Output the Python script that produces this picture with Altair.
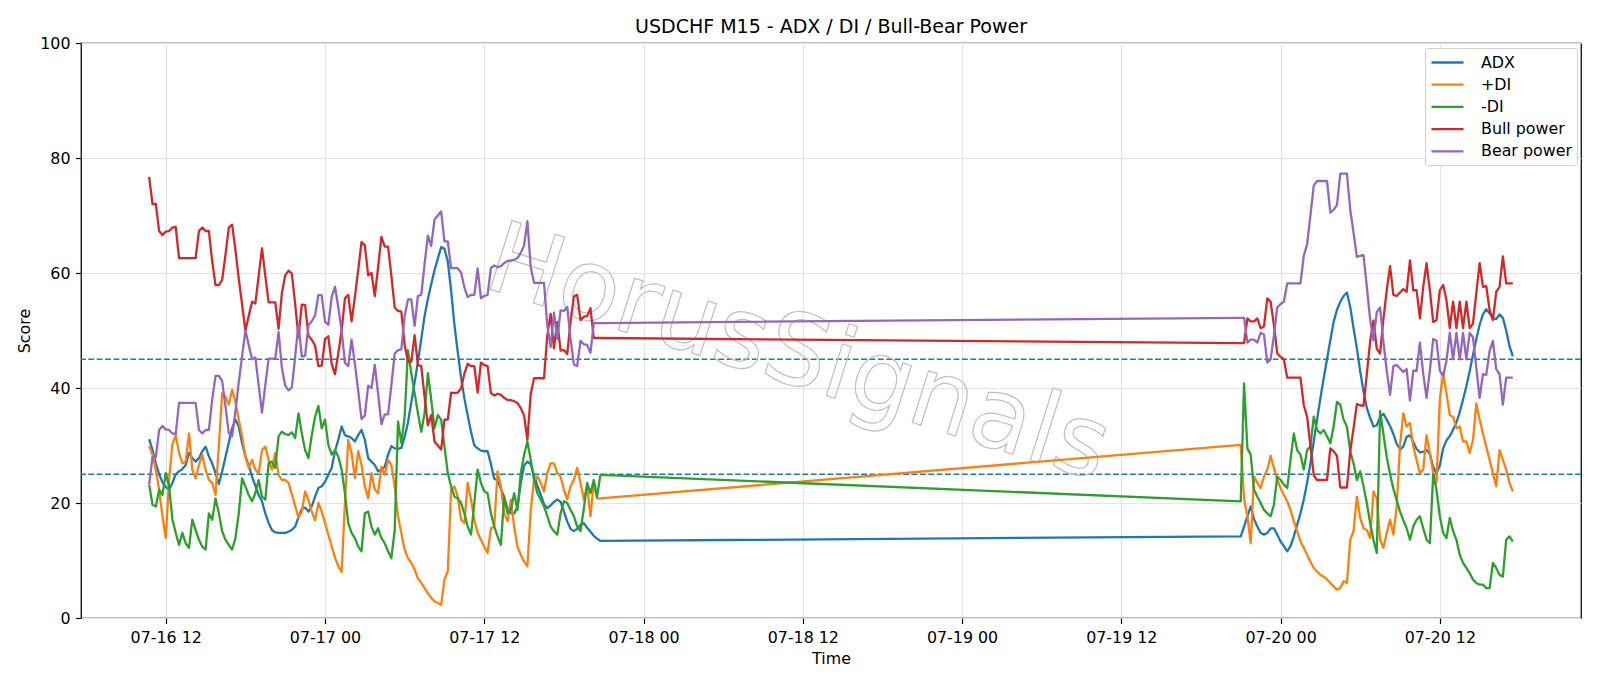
import altair as alt
import pandas as pd

# ---- Segment 1 : 07-16 10:45 -> 07-17 20:45, 15-minute bars ----
SEG1_START = "2026-07-16 10:45"
ADX_1 = [31.1, 29.2, 26.9, 25.0, 23.6, 22.8, 22.3, 23.5, 25.0, 25.5, 25.9, 26.6, 28.7, 27.8, 27.2, 27.8, 29.0, 29.8, 28.1, 26.9,
         25.2, 23.3, 25.5, 28.0, 30.5, 33.0, 34.5, 33.3, 30.4, 28.1, 26.6, 24.6, 23.0, 21.4, 20.3, 18.2, 16.5, 15.3, 14.9, 14.8,
         14.8, 14.8, 15.0, 15.3, 15.9, 17.5, 19.0, 19.2, 18.5, 19.4, 21.1, 22.6, 22.9, 23.7, 24.9, 26.1, 29.0, 31.0, 33.3, 31.8,
         31.6, 31.3, 30.7, 31.8, 32.7, 31.0, 27.8, 27.2, 26.6, 25.5, 25.8, 26.3, 28.4, 29.9, 29.5, 29.4, 29.6, 31.5, 34.0, 37.5,
         41.0, 44.5, 48.5, 52.5, 55.5, 58.0, 60.5, 62.5, 64.5, 64.2, 62.0, 57.0, 51.0, 46.3, 41.8, 38.2, 35.2, 32.4, 30.0, 29.5,
         29.1, 29.0, 29.0, 26.8, 24.2, 24.0, 22.5, 21.0, 19.0, 18.2, 18.2, 19.3, 23.5, 26.5, 27.2, 26.7, 24.8, 23.0, 21.5, 19.8,
         19.1, 19.6, 20.2, 20.6, 20.2, 18.5, 16.8, 15.5, 15.1, 15.5, 16.2, 16.5, 15.7, 15.0, 14.3, 13.8, 13.4]
PDI_1 = [29.9, 28.4, 25.8, 22.3, 17.7, 13.9, 24.0, 30.2, 31.8, 28.7, 26.9, 27.2, 32.1, 25.8, 24.3, 26.6, 28.4, 25.8, 24.0, 23.5,
         21.4, 30.0, 39.1, 38.5, 37.1, 39.7, 37.6, 34.5, 31.6, 28.1, 26.1, 27.5, 25.8, 25.2, 29.2, 29.8, 27.5, 25.8, 28.7, 24.9,
         24.0, 24.0, 23.5, 21.5, 19.5, 17.5, 18.5, 22.0, 20.5, 18.5, 17.0, 20.0, 18.5, 16.5, 14.5, 12.5, 10.5, 9.0, 8.0, 20.0,
         31.0, 28.7, 24.3, 29.0, 26.6, 22.9, 20.8, 25.2, 22.3, 21.7, 26.3, 24.9, 27.5, 26.6, 22.9, 17.7, 14.8, 11.9, 10.4, 9.6,
         8.4, 6.9, 6.1, 5.2, 4.3, 3.5, 2.9, 2.6, 2.3, 6.7, 8.1, 22.3, 22.9, 21.1, 17.1, 16.5, 23.5, 20.6, 17.1, 14.8,
         13.6, 12.4, 11.3, 15.6, 15.9, 25.5, 22.9, 18.2, 16.8, 20.6, 15.9, 12.4, 11.0, 9.8, 9.0, 18.8, 24.0, 24.6, 23.5, 22.0,
         25.2, 26.9, 26.9, 25.2, 24.6, 22.3, 20.6, 22.9, 24.0, 26.1, 23.5, 20.6, 22.9, 17.7, 23.5, 20.8, 20.8]
MDI_1 = [23.2, 19.7, 19.4, 22.3, 21.4, 25.2, 22.9, 17.1, 14.8, 12.7, 14.8, 13.0, 12.2, 17.1, 15.3, 13.6, 12.4, 11.9, 18.2, 17.1,
         20.8, 18.2, 15.1, 13.6, 12.7, 11.9, 13.9, 18.2, 24.3, 22.9, 21.4, 20.3, 21.7, 24.0, 21.1, 20.6, 26.9, 27.2, 26.1, 31.6,
         32.4, 32.0, 31.8, 32.3, 31.3, 35.6, 32.1, 29.2, 27.8, 31.8, 35.0, 36.9, 33.0, 34.5, 30.1, 28.4, 29.2, 28.1, 25.8, 21.7,
         16.5, 14.8, 13.9, 12.4, 11.6, 18.2, 18.5, 15.9, 14.5, 15.6, 13.9, 13.0, 11.6, 10.4, 15.3, 34.2, 30.4, 35.0, 46.6, 42.6,
         39.1, 35.6, 32.4, 35.6, 42.6, 38.0, 33.0, 35.3, 34.5, 29.8, 25.2, 22.9, 21.1, 20.8, 20.0, 18.2, 15.9, 14.5, 20.0, 25.8,
         23.5, 22.0, 21.7, 18.2, 15.9, 14.2, 12.7, 21.1, 18.2, 18.8, 21.7, 18.8, 25.2, 28.4, 30.7, 27.5, 24.0, 21.7, 20.6, 19.4,
         17.7, 15.9, 15.1, 14.5, 18.2, 20.3, 20.0, 18.8, 17.7, 15.9, 15.1, 19.0, 23.5, 21.7, 24.0, 21.1, 24.9]
BULL_1 = [76.7, 72.0, 72.0, 67.3, 66.6, 67.2, 67.3, 67.9, 68.0, 62.6, 62.6, 62.6, 62.6, 62.6, 62.6, 67.3, 67.9, 67.3, 67.3, 62.0,
          57.9, 57.9, 58.8, 63.2, 67.9, 68.4, 64.0, 59.0, 54.5, 50.0, 52.5, 55.0, 54.7, 59.5, 64.3, 59.5, 54.9, 54.9, 54.9, 50.3,
          56.5, 59.6, 60.4, 59.9, 54.6, 48.8, 54.5, 54.4, 49.1, 48.4, 47.4, 43.8, 43.9, 48.5, 49.0, 44.2, 42.4, 46.0, 50.0, 55.6,
          56.2, 51.6, 55.8, 60.5, 65.4, 64.8, 59.6, 60.0, 56.0, 61.0, 66.3, 64.6, 64.6, 59.5, 54.0, 53.4, 53.3, 47.5, 44.6, 44.6,
          49.2, 44.0, 43.8, 38.5, 33.5, 35.3, 30.7, 30.0, 29.3, 34.5, 34.5, 39.2, 39.1, 39.2, 39.9, 42.5, 44.2, 43.8, 43.8, 39.2,
          44.4, 44.0, 43.8, 39.1, 38.7, 39.0, 38.8, 38.3, 37.9, 37.9, 37.7, 37.4, 36.5, 35.2, 31.0, 39.0, 41.7, 41.7, 41.7, 41.7,
          49.2, 52.9, 46.9, 51.5, 46.5, 46.6, 45.9, 51.5, 55.9, 56.2, 51.8, 52.4, 52.5, 53.9, 48.7, 48.7, 48.7]
BEAR_1 = [23.3, 28.0, 28.0, 32.7, 33.4, 32.8, 32.7, 32.1, 32.0, 37.4, 37.4, 37.4, 37.4, 37.4, 37.4, 32.7, 32.1, 32.7, 32.7, 38.0,
          42.1, 42.1, 41.2, 36.8, 32.1, 31.6, 36.0, 41.0, 45.5, 50.0, 47.5, 45.0, 45.3, 40.5, 35.7, 40.5, 45.1, 45.1, 45.1, 49.7,
          43.5, 40.4, 39.6, 40.1, 45.4, 51.2, 45.5, 45.6, 50.9, 51.6, 52.6, 56.2, 56.1, 51.5, 51.0, 55.8, 57.6, 54.0, 50.0, 44.4,
          43.8, 48.4, 44.2, 39.5, 34.6, 35.2, 40.4, 40.0, 44.0, 39.0, 33.7, 35.4, 35.4, 40.5, 46.0, 46.6, 46.7, 52.5, 55.4, 55.4,
          50.8, 56.0, 56.2, 61.5, 66.5, 64.7, 69.3, 70.0, 70.7, 65.5, 65.5, 60.8, 60.9, 60.8, 60.1, 57.5, 55.8, 56.2, 56.2, 60.8,
          55.6, 56.0, 56.2, 60.9, 61.3, 61.0, 61.2, 61.7, 62.1, 62.1, 62.3, 62.6, 63.5, 64.8, 69.0, 61.0, 58.3, 58.3, 58.3, 58.3,
          50.8, 47.1, 53.1, 48.5, 53.5, 53.4, 54.1, 48.5, 44.1, 43.8, 48.2, 47.6, 47.5, 46.1, 51.3, 51.3, 51.3]

# ---- Segment 2 : 07-19 21:00 -> 07-20 17:30, 15-minute bars ----
SEG2_START = "2026-07-19 21:00"
ADX_2 = [14.2, 15.9, 17.7, 19.4, 17.2, 15.9, 14.8, 14.5, 14.8, 15.6, 15.6, 14.5, 13.3, 12.5, 11.6, 12.5, 14.2, 16.2, 18.2, 20.6,
         23.5, 26.9, 30.7, 34.5, 38.2, 41.7, 45.0, 48.3, 51.5, 53.6, 55.0, 56.0, 56.6, 54.1, 50.4, 46.9, 42.9, 39.4, 36.5, 34.8,
         33.3, 33.5, 35.0, 35.5, 34.5, 33.4, 32.0, 30.3, 29.3, 29.8, 31.5, 31.8, 30.6, 29.4, 28.8, 28.9, 29.2, 28.5, 26.3, 25.2,
         26.5, 29.5, 30.9, 31.6, 32.8, 34.0, 35.8, 38.0, 40.3, 42.9, 45.8, 48.5, 51.0, 52.8, 53.7, 53.0, 52.1, 52.0, 52.8, 52.2,
         50.0, 47.3, 45.5]
PDI_2 = [30.1, 20.8, 17.7, 13.0, 24.6, 23.5, 22.6, 24.6, 25.8, 28.2, 26.1, 24.0, 22.6, 21.4, 20.3, 18.8, 16.8, 15.1, 13.3, 12.2,
         11.0, 9.8, 8.7, 8.1, 7.5, 7.2, 6.7, 6.1, 5.5, 4.9, 5.2, 6.4, 6.1, 13.6, 15.1, 21.1, 17.4, 15.6, 15.3, 13.9,
         22.0, 20.8, 13.6, 12.2, 14.8, 17.1, 14.5, 19.4, 30.0, 35.6, 33.3, 33.9, 29.8, 27.5, 25.2, 25.8, 31.8, 28.7, 25.2, 23.5,
         38.0, 42.6, 39.1, 35.3, 35.0, 33.0, 33.3, 30.7, 30.7, 28.7, 31.0, 37.3, 34.5, 32.1, 29.8, 27.5, 25.2, 22.9, 29.2, 27.5,
         25.8, 23.5, 22.0]
MDI_2 = [20.3, 40.8, 29.5, 28.4, 22.3, 21.1, 20.0, 18.8, 18.2, 17.7, 19.7, 24.6, 24.0, 23.2, 22.6, 27.5, 32.1, 29.2, 28.4, 25.8,
         29.2, 29.8, 35.0, 32.7, 32.1, 32.7, 31.6, 30.4, 33.3, 37.6, 37.1, 34.5, 33.3, 29.0, 26.9, 24.0, 25.5, 22.9, 20.0, 16.5,
         13.6, 11.3, 36.0, 32.0, 28.0, 25.0, 22.5, 20.5, 18.5, 17.0, 15.6, 13.6, 15.9, 17.1, 17.7, 15.6, 13.6, 13.0, 25.0, 22.3,
         17.7, 14.8, 13.9, 17.4, 15.1, 13.6, 11.0, 9.6, 8.7, 7.8, 6.7, 6.1, 5.8, 5.8, 5.2, 5.2, 9.6, 8.7, 7.5, 7.2,
         13.6, 14.2, 13.3]
BULL_2 = [47.8, 47.8, 52.1, 51.6, 51.6, 52.1, 50.4, 50.7, 55.6, 55.0, 50.9, 46.0, 45.4, 45.0, 41.8, 41.8, 41.8, 41.8, 41.8, 37.0,
          35.0, 30.0, 24.8, 24.0, 24.0, 24.0, 24.0, 29.5, 29.0, 28.2, 22.7, 22.7, 22.7, 29.0, 33.0, 37.2, 37.0, 36.9, 42.4, 48.1,
          51.7, 46.8, 46.0, 52.0, 57.0, 61.2, 56.2, 56.0, 56.6, 57.2, 56.7, 62.2, 57.0, 57.0, 52.1, 57.6, 61.7, 57.0, 51.5, 51.8,
          57.0, 57.9, 55.3, 50.4, 55.0, 50.4, 55.0, 50.4, 55.0, 50.4, 51.2, 56.5, 61.7, 57.6, 57.7, 53.6, 51.8, 56.7, 57.6, 62.9,
          58.2, 58.2, 58.2]
BEAR_2 = [52.2, 52.2, 47.9, 48.4, 48.4, 47.9, 49.6, 49.3, 44.4, 45.0, 49.1, 54.0, 54.6, 55.0, 58.2, 58.2, 58.2, 58.2, 58.2, 63.0,
          65.0, 70.0, 75.2, 76.0, 76.0, 76.0, 76.0, 70.5, 71.0, 71.8, 77.3, 77.3, 77.3, 71.0, 67.0, 62.8, 63.0, 63.1, 57.6, 51.9,
          48.3, 53.2, 54.0, 48.0, 43.0, 38.8, 43.8, 44.0, 43.4, 42.8, 43.3, 37.8, 43.0, 43.0, 47.9, 42.4, 38.3, 43.0, 48.5, 48.2,
          43.0, 42.1, 44.7, 49.6, 45.0, 49.6, 45.0, 49.6, 45.0, 49.6, 48.8, 43.5, 38.3, 42.4, 42.3, 46.4, 48.2, 43.3, 42.4, 37.1,
          41.8, 41.8, 41.8]

SERIES = ["ADX", "+DI", "-DI", "Bull power", "Bear power"]
COLORS = ["#1f77b4", "#ff7f0e", "#2ca02c", "#d62728", "#9467bd"]
SEG1 = [ADX_1, PDI_1, MDI_1, BULL_1, BEAR_1]
SEG2 = [ADX_2, PDI_2, MDI_2, BULL_2, BEAR_2]
LEVELS = [25, 45]
Y_TICKS = [0, 20, 40, 60, 80, 100]
X_TICKS = [(16, 12), (17, 0), (17, 12), (18, 0), (18, 12), (19, 0), (19, 12), (20, 0), (20, 12)]
TITLE = "USDCHF M15 - ADX / DI / Bull-Bear Power"
WATERMARK = "HorusSignals"

t1 = pd.date_range(SEG1_START, periods=len(ADX_1), freq="15min")
t2 = pd.date_range(SEG2_START, periods=len(ADX_2), freq="15min")
rows = []
for name, a, b in zip(SERIES, SEG1, SEG2):
    for t, v in zip(t1, a):
        rows.append({"time": t.strftime("%Y-%m-%dT%H:%M:%S"), "value": v, "series": name})
    for t, v in zip(t2, b):
        rows.append({"time": t.strftime("%Y-%m-%dT%H:%M:%S"), "value": v, "series": name})
df = pd.DataFrame(rows)

FONT = "DejaVu Sans"
FS = 15.87          # 10 pt at the figure's 114 dpi
x_dom = [alt.DateTime(year=2026, month=7, date=16, hours=5, minutes=36, seconds=45),
         alt.DateTime(year=2026, month=7, date=20, hours=22, minutes=38, seconds=15)]
x_vals = [alt.DateTime(year=2026, month=7, date=d, hours=h) for d, h in X_TICKS]

x_enc = alt.X("time:T", scale=alt.Scale(domain=x_dom),
              axis=alt.Axis(values=x_vals, format="%m-%d %H", title="Time", labelFlush=False,
                            labelOverlap=False, labelPadding=5.5, titlePadding=6))
y_enc = alt.Y("value:Q", scale=alt.Scale(domain=[0, 100], nice=False),
              axis=alt.Axis(values=Y_TICKS, title="Score", labelPadding=5.5, titlePadding=7))

lines = alt.Chart(df).mark_line(strokeWidth=2.3, strokeJoin="round").encode(
    x=x_enc, y=y_enc,
    color=alt.Color("series:N", scale=alt.Scale(domain=SERIES, range=COLORS),
                    legend=alt.Legend(title=None, orient="none", legendX=1344, legendY=5,
                                      symbolType="M-1,0H3", symbolSize=256, symbolStrokeWidth=2.3,
                                      labelFontSize=FS, labelFont=FONT, labelColor="black",
                                      fillColor="white", strokeColor="#d0d0d0", cornerRadius=3,
                                      padding=5, rowPadding=4.2, labelOffset=32)),
    detail="series:N",
)

rules = alt.Chart(pd.DataFrame({"level": LEVELS})).mark_rule(
    color="#1f77b4", strokeDash=[5.9, 2.5], strokeWidth=1.6).encode(y=alt.Y("level:Q"))

wm = alt.Chart(pd.DataFrame({"t": [WATERMARK]})).mark_text(
    font=FONT, fontSize=99, angle=17.5, fillOpacity=0, stroke="#c0c0c0", strokeWidth=1.2,
    align="center", baseline="middle").encode(text="t:N", x=alt.value(717), y=alt.value(312))

chart = alt.layer(rules, wm, lines).properties(
    width=1500, height=575,
    title=alt.TitleParams(TITLE, fontSize=19, font=FONT, fontWeight="normal", color="black", offset=-2),
    autosize=alt.AutoSizeParams(type="none"),
    padding={"left": 81, "top": 43, "right": 19, "bottom": 68},
).configure(background="white").configure_axis(
    labelFont=FONT, labelFontSize=FS, labelColor="black", titleFont=FONT, titleFontSize=FS,
    titleColor="black", titleFontWeight="normal", tickColor="black", tickSize=5.5, tickWidth=1.2,
    domain=False, gridColor="#e4e4e4", gridWidth=1.2,
).configure_view(stroke="black", strokeWidth=1.25)

chart.save("out.html", embed_options={"renderer": "svg", "actions": False})
